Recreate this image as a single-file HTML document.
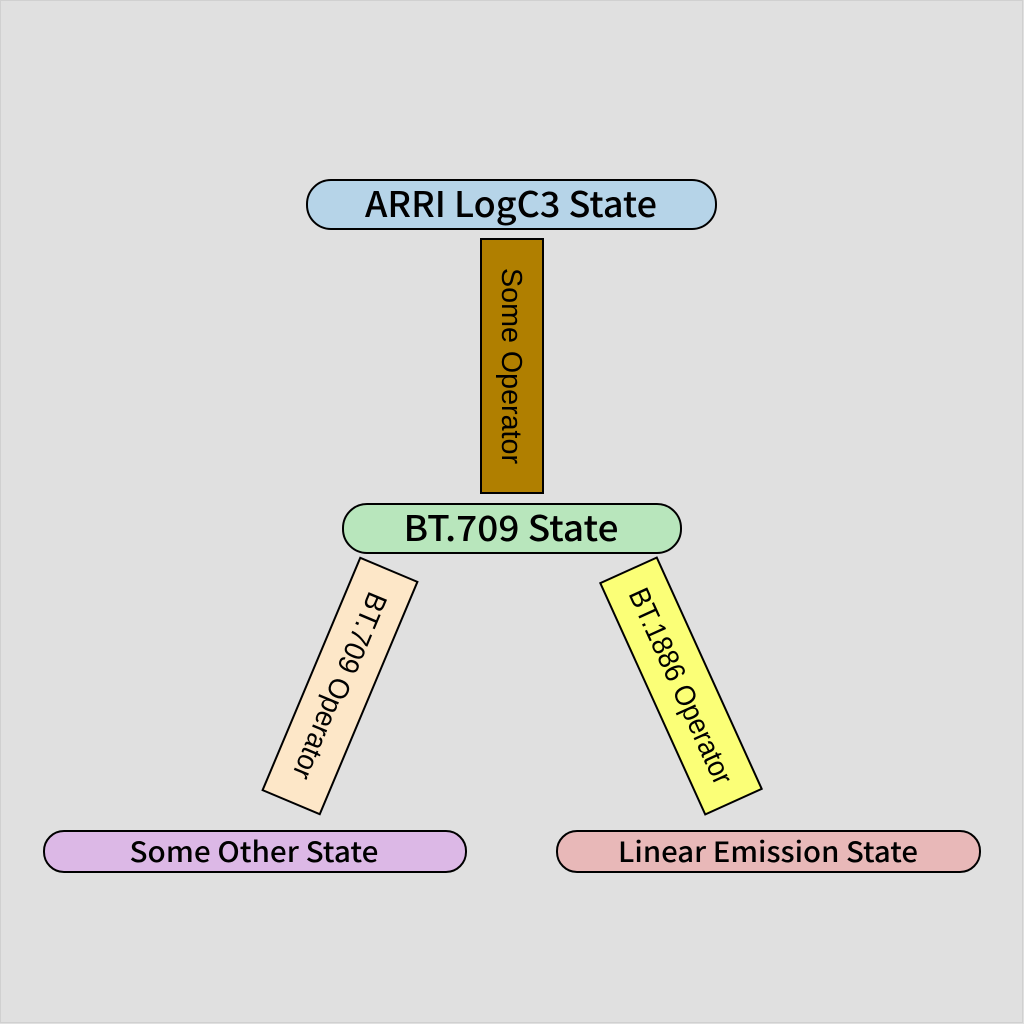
<!DOCTYPE html>
<html><head><meta charset="utf-8"><style>
html,body{margin:0;padding:0;background:#e0e0e0;}
svg{display:block;}
.s{font-family:"Noto Sans CJK JP","Liberation Sans",sans-serif;fill:#000;font-weight:500;}
.o{font-family:"Liberation Sans",sans-serif;fill:#000;font-size:29px;}
</style></head><body>
<svg width="1024" height="1024" viewBox="0 0 1024 1024" xmlns="http://www.w3.org/2000/svg">
<rect x="0" y="0" width="1024" height="1024" fill="#e0e0e0"/>
<rect x="0.5" y="0.5" width="1022" height="1022" fill="none" stroke="#d0d0d0" stroke-width="1"/>

<rect x="307" y="180" width="409" height="49" rx="24" fill="#b6d4e8" stroke="#000" stroke-width="2"/>
<text class="s" x="511" y="217" font-size="35" text-anchor="middle" textLength="292" lengthAdjust="spacingAndGlyphs">ARRI LogC3 State</text>

<rect x="481" y="239" width="62" height="254" fill="#b07f00" stroke="#000" stroke-width="2"/>
<text class="o" transform="translate(512,366) rotate(90)" x="0" y="10" text-anchor="middle" textLength="196" lengthAdjust="spacingAndGlyphs">Some Operator</text>

<rect x="343" y="504" width="338" height="49" rx="24" fill="#b8e6bc" stroke="#000" stroke-width="2"/>
<text class="s" x="511" y="541" font-size="35" text-anchor="middle" textLength="215" lengthAdjust="spacingAndGlyphs">BT.709 State</text>

<g transform="translate(340,686) rotate(112.8)">
<rect x="-126" y="-31" width="252" height="62" fill="#fde7c8" stroke="#000" stroke-width="2"/>
<text class="o" x="0" y="10" text-anchor="middle" textLength="200" lengthAdjust="spacingAndGlyphs">BT.709 Operator</text>
</g>

<g transform="translate(681,686) rotate(65.6)">
<rect x="-127" y="-31" width="254" height="62" fill="#fbff77" stroke="#000" stroke-width="2"/>
<text class="o" x="0" y="10" text-anchor="middle" textLength="212" lengthAdjust="spacingAndGlyphs">BT.1886 Operator</text>
</g>

<rect x="44" y="831" width="422" height="41" rx="20" fill="#dcb8e6" stroke="#000" stroke-width="2"/>
<text class="s" x="254" y="862" font-size="28" text-anchor="middle" textLength="249" lengthAdjust="spacingAndGlyphs">Some Other State</text>

<rect x="557" y="831" width="423" height="41" rx="20" fill="#e8b8b8" stroke="#000" stroke-width="2"/>
<text class="s" x="768" y="862" font-size="28" text-anchor="middle" textLength="300" lengthAdjust="spacingAndGlyphs">Linear Emission State</text>
</svg>
</body></html>
